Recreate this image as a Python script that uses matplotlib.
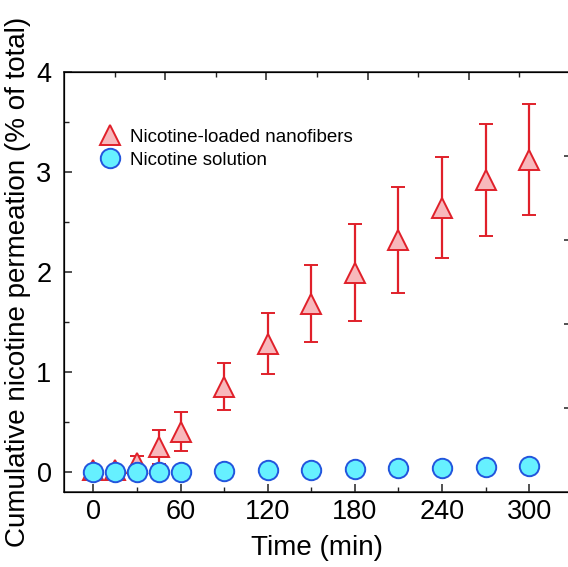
import numpy as np
import matplotlib
matplotlib.use("Agg")
import matplotlib.pyplot as plt

plt.rcParams['font.family'] = ['Liberation Sans', 'DejaVu Sans']

# sampling times (min)
time = [0, 15, 30, 45, 60, 90, 120, 150, 180, 210, 240, 270, 300]
# nicotine-loaded nanofibers: mean and sd (% of total)
fiber_mean = [0.02, 0.02, 0.09, 0.25, 0.405, 0.855, 1.285, 1.685, 1.995, 2.32, 2.645, 2.92, 3.125]
fiber_sd = [0.04, 0.04, 0.07, 0.17, 0.195, 0.235, 0.305, 0.385, 0.485, 0.53, 0.505, 0.56, 0.555]
# nicotine solution
sol_mean = [0.0, 0.0, 0.0, 0.0, 0.005, 0.01, 0.02, 0.025, 0.03, 0.04, 0.04, 0.05, 0.065]

xticks = [0, 60, 120, 180, 240, 300]
yticks = [0, 1, 2, 3, 4]

fig = plt.figure(figsize=(5.68, 5.67), dpi=100)
ax = fig.add_axes([64 / 568, 75 / 567, 506 / 568, 420 / 567])

red = '#E0202A'
eb = ax.errorbar(time, fiber_mean, yerr=fiber_sd, fmt='^', ms=15,
                 mfc='#F8B8BC', mec=red, mew=1.4, ecolor=red,
                 elinewidth=1.6, capsize=5, capthick=2, zorder=2)
sol, = ax.plot(time, sol_mean, 'o', ms=14, mfc='#66F0FF', mec='#2255DD',
               mew=1.4, zorder=3)

ax.set_xlim(-20.2, 328.1)
ax.set_ylim(-0.2, 4.0)
ax.set_xticks(xticks)
ax.set_xticks(np.arange(30, 330, 60), minor=True)
ax.set_yticks(yticks)
ax.set_yticks(np.arange(0.5, 4, 1), minor=True)

ax.tick_params(which='both', direction='in', labelsize=19.5, color='#222222')
ax.tick_params(which='major', length=6, width=1.1)
ax.tick_params(which='minor', length=3.3, width=1.0)
ax.tick_params(axis='y', pad=9)
ax.tick_params(axis='x', pad=5)
for s in ax.spines.values():
    s.set_linewidth(1.1)
    s.set_color('#222222')

ax.set_xlabel('Time (min)', fontsize=20, labelpad=7)
ax.set_ylabel('Cumulative nicotine permeation (% of total)', fontsize=20, labelpad=4)

# mirror ticks on the top and right spines
top = ax.twiny()
top.set_xlim(0, 5)
top.set_xticks([1, 2, 3, 4, 5])
top.set_xticks(np.arange(0.5, 5, 1), minor=True)
top.tick_params(which='both', direction='in', labeltop=False, color='#222222')
top.tick_params(which='major', length=6, width=1.1)
top.tick_params(which='minor', length=3.3, width=1.0)

right = ax.twinx()
right.set_ylim(0, 5)
right.set_yticks([1, 2, 3, 4])
right.tick_params(direction='in', labelright=False, length=4, width=1.1, color='#222222')

ax.legend([eb[0], sol], ['Nicotine-loaded nanofibers', 'Nicotine solution'],
          loc='upper left', bbox_to_anchor=(0.035, 0.905), frameon=False,
          fontsize=13.5, handletextpad=0.45, labelspacing=0.3,
          handlelength=1.2, numpoints=1)

fig.savefig('out.png', dpi=100)
